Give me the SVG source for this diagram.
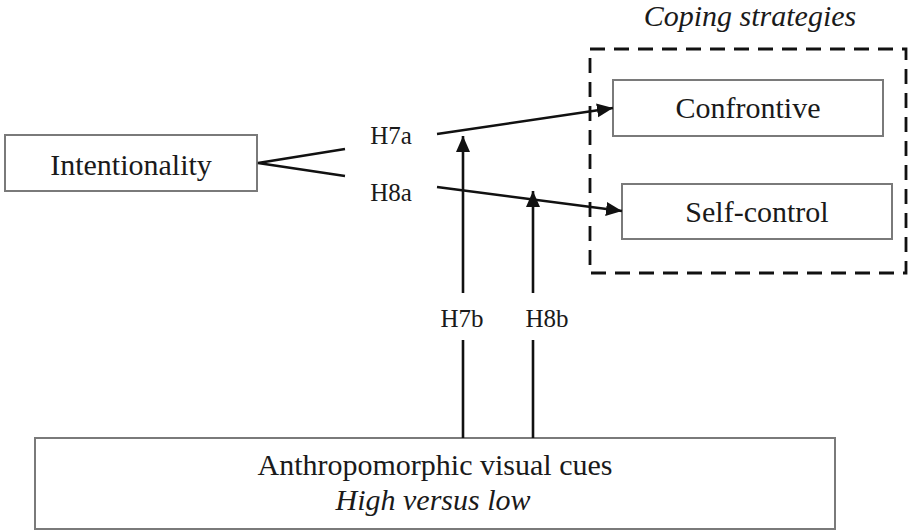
<svg xmlns="http://www.w3.org/2000/svg" width="908" height="530" viewBox="0 0 908 530">
  <defs>
    <marker id="arrow" markerUnits="userSpaceOnUse" markerWidth="18" markerHeight="16" refX="16" refY="7" orient="auto">
      <path d="M0,0 L16,7 L0,14 Z" fill="#111111"/>
    </marker>
  </defs>

  <rect width="908" height="530" fill="#ffffff"/>

  <!-- coping strategies group -->
  <g id="coping-strategies">
    <rect x="590" y="49" width="316" height="224" fill="none" stroke="#111111" stroke-width="2.8" stroke-dasharray="15 9"/>
    <text x="750" y="26" font-family="Liberation Serif" font-size="30" font-style="italic" text-anchor="middle" fill="#1a1a1a">Coping strategies</text>
  </g>

  <!-- boxed nodes share the thin grey outline -->
  <g fill="#ffffff" stroke="#7a7a7a" stroke-width="2">
    <g id="intentionality">
      <rect x="5" y="135" width="252" height="56"/>
    </g>
    <g id="confrontive">
      <rect x="613" y="80" width="270" height="56"/>
    </g>
    <g id="self-control">
      <rect x="622" y="184" width="270" height="55"/>
    </g>
    <g id="anthropomorphic-cues">
      <rect x="35" y="438" width="800" height="91"/>
    </g>
  </g>

  <!-- node labels -->
  <text x="131" y="175" font-family="Liberation Serif" font-size="30" text-anchor="middle" fill="#1a1a1a">Intentionality</text>
  <text x="748" y="118" font-family="Liberation Serif" font-size="30" text-anchor="middle" fill="#1a1a1a">Confrontive</text>
  <text x="757" y="222" font-family="Liberation Serif" font-size="30" text-anchor="middle" fill="#1a1a1a">Self-control</text>
  <text x="435" y="475" font-family="Liberation Serif" font-size="30" text-anchor="middle" fill="#1a1a1a">Anthropomorphic visual cues</text>
  <text x="433" y="510" font-family="Liberation Serif" font-size="30" font-style="italic" text-anchor="middle" fill="#1a1a1a">High versus low</text>

  <!-- connectors -->
  <g id="connectors" fill="none" stroke="#111111" stroke-width="2.6">
    <polyline points="345,149 258,163 345,176"/>
    <line x1="437" y1="134" x2="613" y2="108" marker-end="url(#arrow)"/>
    <line x1="437" y1="187" x2="622" y2="211" marker-end="url(#arrow)"/>
    <line x1="463" y1="293" x2="463" y2="136" marker-end="url(#arrow)"/>
    <line x1="463" y1="438" x2="463" y2="340"/>
    <line x1="533" y1="293" x2="533" y2="191" marker-end="url(#arrow)"/>
    <line x1="533" y1="438" x2="533" y2="340"/>
  </g>

  <!-- hypothesis labels -->
  <g id="hypotheses">
    <text x="391" y="144" font-family="Liberation Serif" font-size="25" text-anchor="middle" fill="#1a1a1a">H7a</text>
    <text x="391" y="201" font-family="Liberation Serif" font-size="25" text-anchor="middle" fill="#1a1a1a">H8a</text>
    <text x="462" y="327" font-family="Liberation Serif" font-size="25" text-anchor="middle" fill="#1a1a1a">H7b</text>
    <text x="547" y="327" font-family="Liberation Serif" font-size="25" text-anchor="middle" fill="#1a1a1a">H8b</text>
  </g>
</svg>
